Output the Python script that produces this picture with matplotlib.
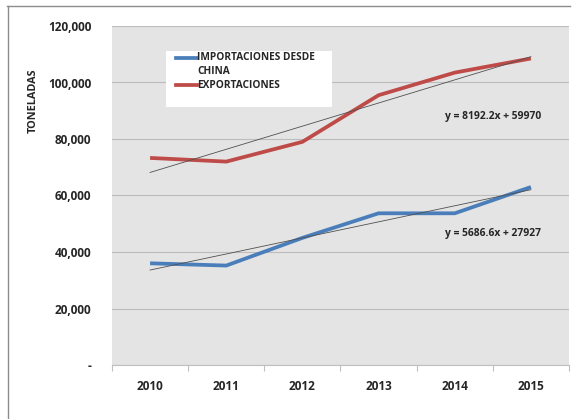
import numpy as np
import matplotlib.pyplot as plt
from matplotlib.lines import Line2D
from matplotlib.patches import Rectangle

plt.rcParams['font.family'] = ['Open Sans', 'DejaVu Sans']
plt.rcParams['font.weight'] = 'bold'

years = ['2010', '2011', '2012', '2013', '2014', '2015']
importaciones = [36000, 35200, 45000, 53700, 53700, 63000]
exportaciones = [73300, 72000, 79000, 95500, 103500, 108500]
series_names = ['IMPORTACIONES DESDE\nCHINA', 'EXPORTACIONES']
series_colors = ['#4a7ebb', '#be4b48']

# linear trend coefficients (x = 1..6)
trend_imp = [5686.6, 27927]
trend_exp = [8192.2, 59970]

yticks = [0, 20000, 40000, 60000, 80000, 100000, 120000]
ytick_labels = ['-', '20,000', '40,000', '60,000', '80,000', '100,000', '120,000']

TXT = '#262626'

fig = plt.figure(figsize=(5.74, 4.19), dpi=100)
ax = fig.add_axes([112 / 574, 1 - 365 / 419, 457 / 574, 339 / 419])
ax.set_facecolor('#e4e4e4')

x = np.arange(len(years))
for vals, coef, col in [(importaciones, trend_imp, series_colors[0]),
                        (exportaciones, trend_exp, series_colors[1])]:
    ax.plot(x, vals, color=col, lw=2.7, solid_capstyle='butt', zorder=3)
    ax.plot(x, coef[0] * (x + 1) + coef[1], color='#505050', lw=0.6, zorder=4)

ax.set_xlim(-0.5, len(years) - 0.5)
ax.set_ylim(0, 120000)
ax.set_yticks(yticks)
ax.set_yticklabels(ytick_labels)
ax.set_xticks(x)
ax.set_xticklabels(years)
ax.set_xticks(np.arange(-0.5, len(years)), minor=True)
ax.tick_params(axis='y', length=0, pad=15, labelsize=8.5, labelcolor=TXT)
ax.tick_params(axis='x', which='major', length=0, pad=11, labelsize=8.5, labelcolor=TXT)
ax.tick_params(axis='x', which='minor', length=4, color='#bfbfbf', width=0.8)
ax.grid(axis='y', color='#bcbcbc', lw=0.8)
ax.set_axisbelow(True)
for s in ['top', 'right', 'left']:
    ax.spines[s].set_visible(False)
ax.spines['bottom'].set_color('#bfbfbf')
ax.spines['bottom'].set_linewidth(0.8)

# trend equations
ax.text(3.87, 87800, 'y = %.1fx + %d' % (trend_exp[0], trend_exp[1]),
        fontsize=7.4, color=TXT, va='center')
ax.text(3.87, 46400, 'y = %.1fx + %d' % (trend_imp[0], trend_imp[1]),
        fontsize=7.4, color=TXT, va='center')

# legend box
ax.add_patch(Rectangle((166 / 574, 1 - 107 / 419), 166 / 574, 56 / 419,
                       transform=fig.transFigure, facecolor='white',
                       edgecolor='none', zorder=5))
for name, col, ypx in [(series_names[0], series_colors[0], 58),
                       (series_names[1], series_colors[1], 85)]:
    yf = 1 - ypx / 419
    fig.add_artist(Line2D([176 / 574, 197 / 574], [yf, yf], color=col, lw=2.7,
                          zorder=6))
    for k, line in enumerate(name.split('\n')):
        fig.text(197 / 574, 1 - (ypx + 13.5 * k) / 419, line, fontsize=7.3,
                 color=TXT, va='center', zorder=6)

fig.text(33 / 574, 1 - 101 / 419, 'TONELADAS', rotation=90, fontsize=7.8,
         color=TXT, ha='center', va='center')

# chart frame
fig.add_artist(Line2D([7 / 574, 570 / 574], [1 - 6 / 419, 1 - 6 / 419],
                      color='#8c8c8c', lw=1))
fig.add_artist(Line2D([7.5 / 574, 7.5 / 574], [1 - 6 / 419, 0],
                      color='#8c8c8c', lw=1))

fig.savefig('out.png', dpi=100)
